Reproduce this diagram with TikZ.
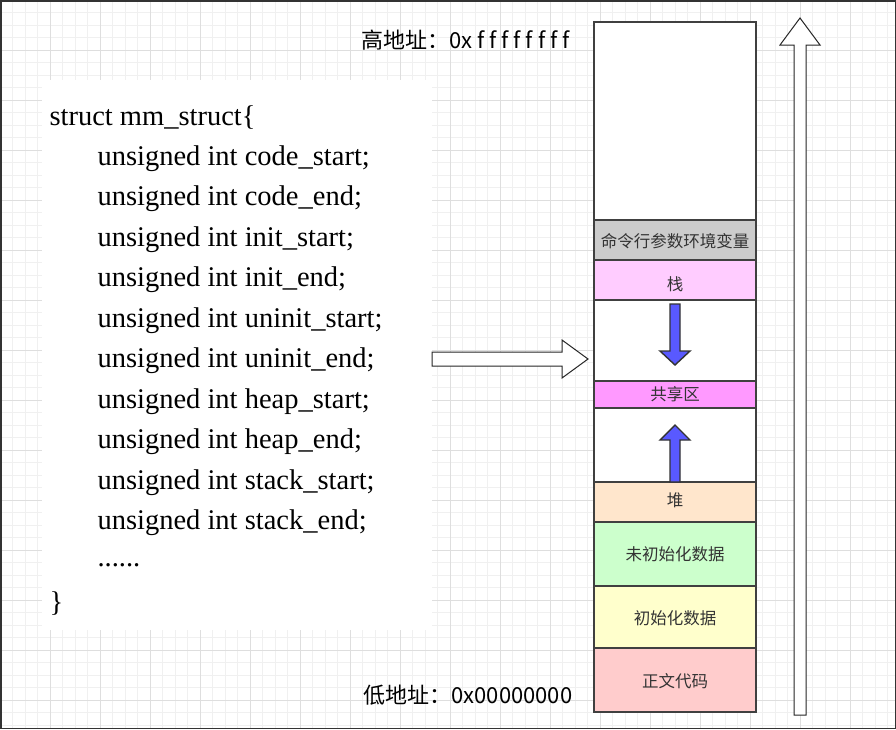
\documentclass[tikz,border=0pt]{standalone}
\usepackage{fontspec}
\setmainfont{Liberation Serif}
\newfontfamily\cjk{Noto Sans CJK SC}
\begin{document}
\begin{tikzpicture}[x=1pt,y=-1pt,
  seg/.style={draw=black!75,line width=1.6pt},
  lbl/.style={font=\cjk\fontsize{16.5}{18}\selectfont,text=black!80},
  code/.style={anchor=west,font=\fontsize{28.5}{30}\selectfont},
  blue/.style={draw=black!80,line width=1.4pt,fill=blue!65!white}]
\useasboundingbox (0,0) rectangle (896,729);
\fill[white] (0,0) rectangle (896,729);
\foreach \k in {0,12.5,...,896} \draw[black!6,line width=0.5pt] (\k,0) -- (\k,729);
\foreach \k in {0,12.5,...,729} \draw[black!6,line width=0.5pt] (0,\k) -- (896,\k);
\foreach \k in {0,50,...,896} \draw[black!13,line width=0.8pt] (\k,0) -- (\k,729);
\foreach \k in {0,50,...,729} \draw[black!13,line width=0.8pt] (0,\k) -- (896,\k);
\draw[black!80,line width=1.5pt] (0.75,0.75) rectangle (895.25,728.25);
% code panel
\fill[white] (42,80) rectangle (432,630);
\node[code] (s0) at (46,118) {struct mm\_struct\{};
\foreach \t [count=\i] in {code\_start,code\_end,init\_start,init\_end,uninit\_start,uninit\_end,heap\_start,heap\_end,stack\_start,stack\_end}
  \node[code] (s\i) at (94,118+40.5*\i) {unsigned int \t;};
\node[code] (dots) at (94,565) {......};
\node[code] (close) at (46,604) {\}};
% memory column
\path[seg,fill=white] (594,22) rectangle (756,220);
\path[seg,fill=black!20] (594,220) rectangle (756,260);
\path[seg,fill={rgb,255:red,255;green,204;blue,255}] (594,260) rectangle (756,300);
\path[seg,fill=white] (594,300) rectangle (756,381);
\path[seg,fill={rgb,255:red,255;green,153;blue,255}] (594,381) rectangle (756,408);
\path[seg,fill=white] (594,408) rectangle (756,482);
\path[seg,fill={rgb,255:red,255;green,230;blue,204}] (594,482) rectangle (756,522);
\path[seg,fill={rgb,255:red,204;green,255;blue,204}] (594,522) rectangle (756,586);
\path[seg,fill={rgb,255:red,255;green,255;blue,204}] (594,586) rectangle (756,648);
\path[seg,fill={rgb,255:red,255;green,204;blue,204}] (594,648) rectangle (756,712);
\node[lbl,inner sep=0pt] (m1) at (675,241) {命令行参数环境变量};
\node[lbl] (m2) at (675,284) {栈};
\node[lbl] (m3) at (675,394) {共享区};
\node[lbl] (m4) at (675,500) {堆};
\node[lbl] (m5) at (675,554) {未初始化数据};
\node[lbl] (m6) at (675,618) {初始化数据};
\node[lbl] (m7) at (675,681) {正文代码};
% blue arrows
\draw[blue] (670,304) -- (680,304) -- (680,351) -- (690,351) -- (675,365) -- (660,351) -- (670,351) -- cycle;
\draw[blue] (670,482) -- (680,482) -- (680,440) -- (690,440) -- (675,425) -- (660,440) -- (670,440) -- cycle;
% big arrows
\draw[black!85,line width=1pt,fill=white] (432,352) -- (562,352) -- (562,340) -- (588,359) -- (562,378) -- (562,366) -- (432,366) -- cycle;
\draw[black!85,line width=1pt,fill=white] (794,715) -- (794,45) -- (780,45) -- (800,18) -- (820,45) -- (806,45) -- (806,715) -- cycle;
% address labels
\node[anchor=west,font=\cjk\fontsize{22}{24}\selectfont] (hi) at (358,40) {高地址：0x f f f f f f f f};
\node[anchor=west,font=\cjk\fontsize{22}{24}\selectfont] (lo) at (360,695) {低地址：0x00000000};
\end{tikzpicture}
\end{document}
